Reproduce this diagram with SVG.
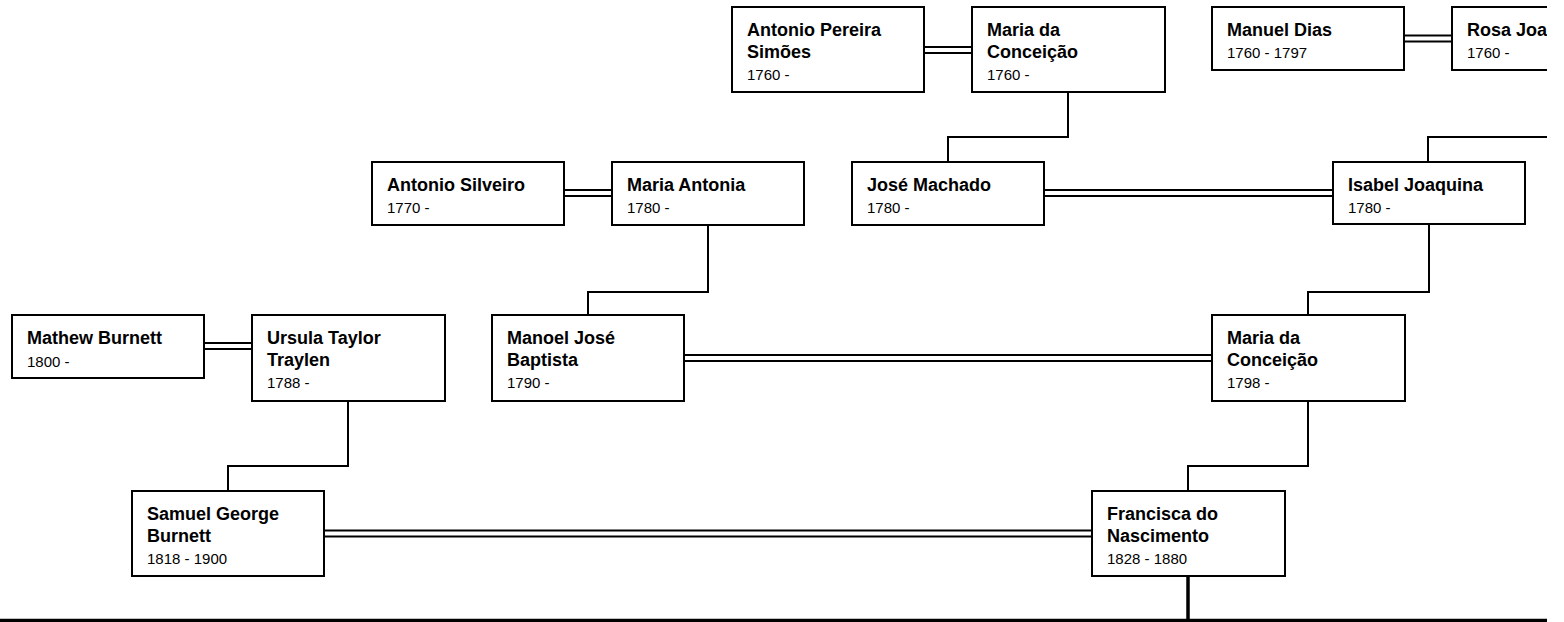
<svg xmlns="http://www.w3.org/2000/svg" width="1564" height="622" viewBox="0 0 1564 622">
<style>
.box{fill:#fff;stroke:#000;stroke-width:2}
.n{font-family:"Liberation Sans",Arial,sans-serif;font-weight:bold;font-size:18px;fill:#000}
.d{font-family:"Liberation Sans",Arial,sans-serif;font-size:15px;fill:#000}
.c{fill:none;stroke:#000;stroke-width:2}
.mo{fill:none;stroke:#000;stroke-width:8}
.mi{fill:none;stroke:#fff;stroke-width:4}
.t{fill:none;stroke:#000;stroke-width:3.5}
</style>
<defs><clipPath id="view"><rect x="0" y="0" width="1547" height="622"/></clipPath></defs>
<rect width="1564" height="622" fill="#fff"/>
<g clip-path="url(#view)">
<g id="connectors">
<path class="c" d="M1068 92V137H948V162"/>
<path class="c" d="M1548 70V137H1428V162"/>
<path class="c" d="M708 225V292H588V315"/>
<path class="c" d="M1429 225V292H1308V315"/>
<path class="c" d="M348 401V466H228V491"/>
<path class="c" d="M1308 401V466H1188V491"/>
<path class="t" d="M1188 576V620.5"/>
<path class="t" d="M0 620.5H1564"/>
<g>
<path class="mo" d="M924 50H972M1404 38.5H1452M564 193H612M1044 193H1333M204 346H252M684 358H1212M324 533.5H1092"/>
<path class="mi" d="M920 50H976M1400 38.5H1456M560 193H616M1040 193H1337M200 346H256M680 358H1216M320 533.5H1096"/>
</g>
</g>
<g id="antonio-pereira-simoes"><rect class="box" x="732" y="7" width="192" height="85"/><text class="n" x="747" y="36">Antonio Pereira</text><text class="n" x="747" y="58">Simões</text><text class="d" x="747" y="80">1760 -</text></g>
<g id="maria-da-conceicao-1"><rect class="box" x="972" y="7" width="193" height="85"/><text class="n" x="987" y="36">Maria da</text><text class="n" x="987" y="58">Conceição</text><text class="d" x="987" y="80">1760 -</text></g>
<g id="manuel-dias"><rect class="box" x="1212" y="7" width="192" height="63"/><text class="n" x="1227" y="36">Manuel Dias</text><text class="d" x="1227" y="58">1760 - 1797</text></g>
<g id="rosa-joa"><rect class="box" x="1452" y="7" width="192" height="63"/><text class="n" x="1467" y="36">Rosa Joa</text><text class="d" x="1467" y="58">1760 -</text></g>
<g id="antonio-silveiro"><rect class="box" x="372" y="162" width="192" height="63"/><text class="n" x="387" y="191">Antonio Silveiro</text><text class="d" x="387" y="213">1770 -</text></g>
<g id="maria-antonia"><rect class="box" x="612" y="162" width="192" height="63"/><text class="n" x="627" y="191">Maria Antonia</text><text class="d" x="627" y="213">1780 -</text></g>
<g id="jose-machado"><rect class="box" x="852" y="162" width="192" height="63"/><text class="n" x="867" y="191">José Machado</text><text class="d" x="867" y="213">1780 -</text></g>
<g id="isabel-joaquina"><rect class="box" x="1333" y="162" width="192" height="62"/><text class="n" x="1348" y="191">Isabel Joaquina</text><text class="d" x="1348" y="213">1780 -</text></g>
<g id="mathew-burnett"><rect class="box" x="12" y="315" width="192" height="63"/><text class="n" x="27" y="344">Mathew Burnett</text><text class="d" x="27" y="367">1800 -</text></g>
<g id="ursula-taylor-traylen"><rect class="box" x="252" y="315" width="193" height="86"/><text class="n" x="267" y="344">Ursula Taylor</text><text class="n" x="267" y="366">Traylen</text><text class="d" x="267" y="388">1788 -</text></g>
<g id="manoel-jose-baptista"><rect class="box" x="492" y="315" width="192" height="86"/><text class="n" x="507" y="344">Manoel José</text><text class="n" x="507" y="366">Baptista</text><text class="d" x="507" y="388">1790 -</text></g>
<g id="maria-da-conceicao-2"><rect class="box" x="1212" y="315" width="193" height="86"/><text class="n" x="1227" y="344">Maria da</text><text class="n" x="1227" y="366">Conceição</text><text class="d" x="1227" y="388">1798 -</text></g>
<g id="samuel-george-burnett"><rect class="box" x="132" y="491" width="192" height="85"/><text class="n" x="147" y="520">Samuel George</text><text class="n" x="147" y="542">Burnett</text><text class="d" x="147" y="564">1818 - 1900</text></g>
<g id="francisca-do-nascimento"><rect class="box" x="1092" y="491" width="193" height="85"/><text class="n" x="1107" y="520">Francisca do</text><text class="n" x="1107" y="542">Nascimento</text><text class="d" x="1107" y="564">1828 - 1880</text></g>
</g>
</svg>
